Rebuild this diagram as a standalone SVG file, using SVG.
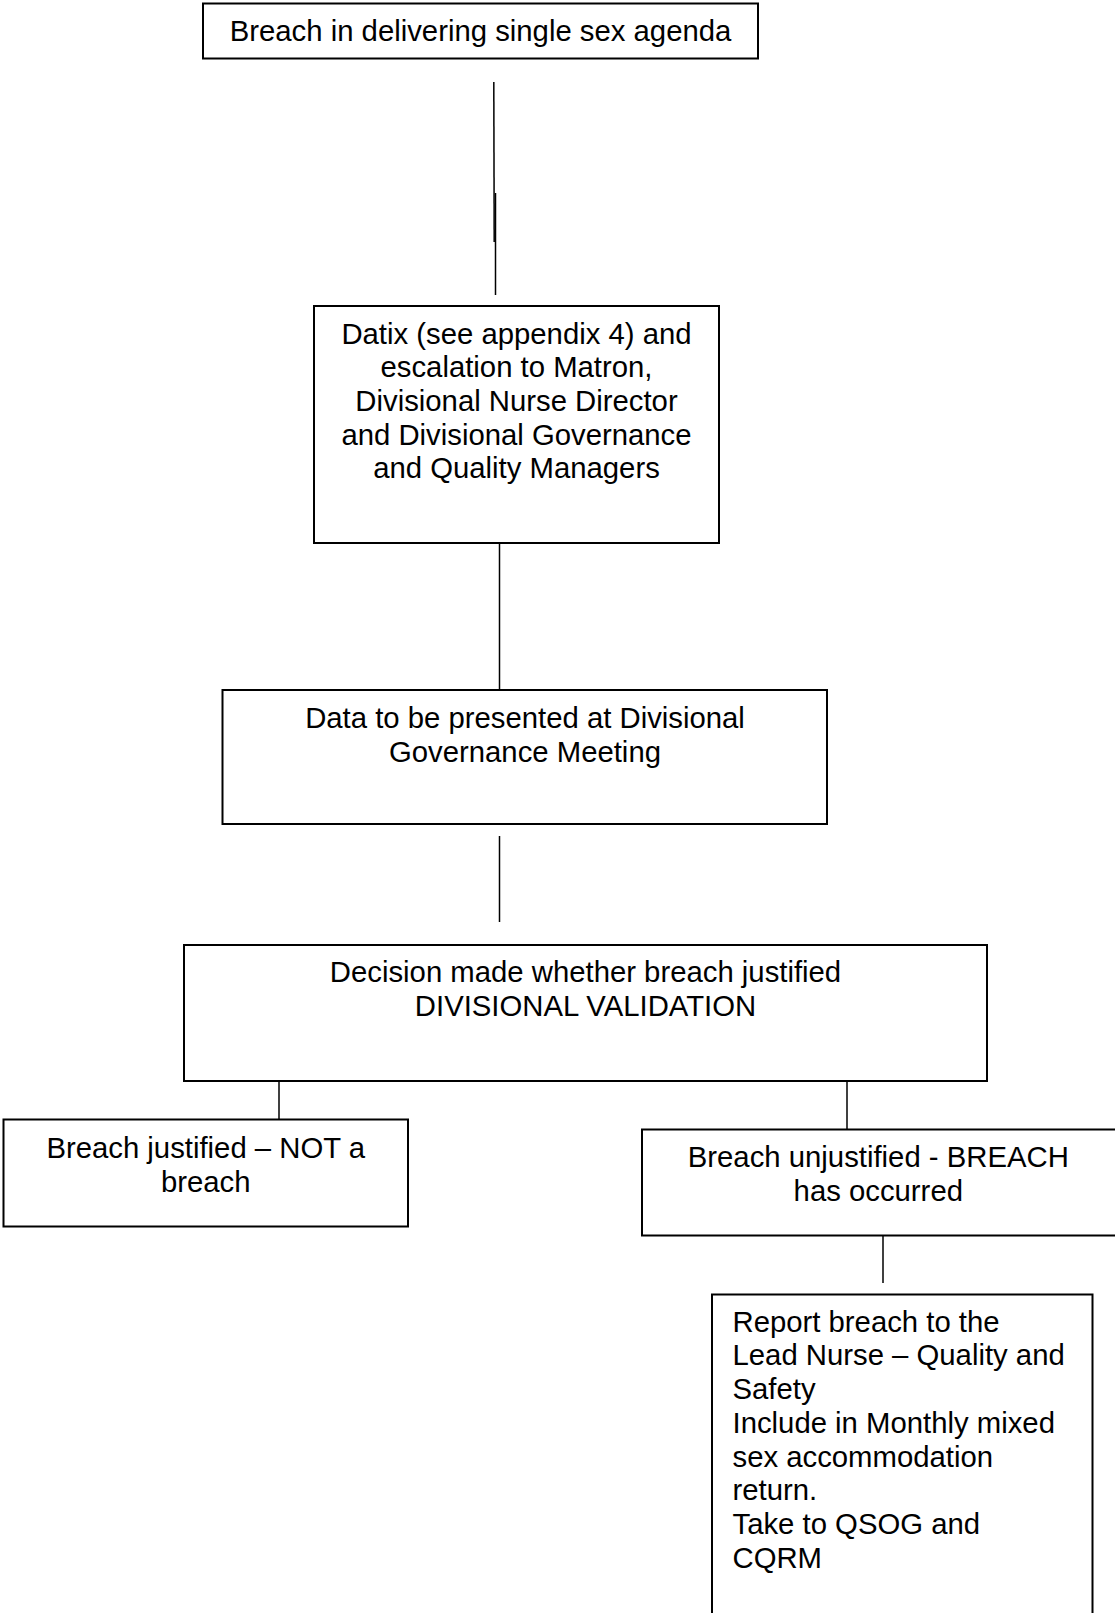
<svg xmlns="http://www.w3.org/2000/svg" width="1115" height="1613" viewBox="0 0 1115 1613">
<style>
  .box { fill: #ffffff; stroke: #000000; stroke-width: 2; }
  .conn { stroke: #000000; stroke-width: 1.5; fill: none; }
  text { font-family: "Liberation Sans", Arial, sans-serif; font-size: 29.3px; fill: #000000; }
  .c { text-anchor: middle; }
</style>
<rect x="0" y="0" width="1115" height="1613" fill="#ffffff"/>
<g id="connectors">
  <line class="conn" x1="493.8" y1="82" x2="494.2" y2="242"/>
  <line class="conn" x1="495.5" y1="193" x2="495.5" y2="295"/>
  <line class="conn" x1="499.5" y1="543" x2="499.5" y2="690"/>
  <line class="conn" x1="499.5" y1="836" x2="499.5" y2="922"/>
  <line class="conn" x1="279" y1="1080" x2="279" y2="1119"/>
  <line class="conn" x1="847" y1="1081" x2="847" y2="1129"/>
  <line class="conn" x1="883" y1="1230" x2="883" y2="1283"/>
</g>
<g id="n1">
  <rect class="box" x="203" y="3.5" width="555" height="55"/>
  <text class="c" x="480.5" y="41">Breach in delivering single sex agenda</text>
</g>
<g id="n2">
  <rect class="box" x="314" y="306" width="405" height="237"/>
  <text class="c" x="516.5" y="343.5">Datix (see appendix 4) and</text>
  <text class="c" x="516.5" y="377.2">escalation to Matron,</text>
  <text class="c" x="516.5" y="410.8">Divisional Nurse Director</text>
  <text class="c" x="516.5" y="444.5">and Divisional Governance</text>
  <text class="c" x="516.5" y="478">and Quality Managers</text>
</g>
<g id="n3">
  <rect class="box" x="222.5" y="690" width="604.5" height="134"/>
  <text class="c" x="525" y="728">Data to be presented at Divisional</text>
  <text class="c" x="525" y="761.5">Governance Meeting</text>
</g>
<g id="n4">
  <rect class="box" x="184" y="945" width="803" height="136"/>
  <text class="c" x="585.5" y="982.3">Decision made whether breach justified</text>
  <text class="c" x="585.5" y="1016">DIVISIONAL VALIDATION</text>
</g>
<g id="n5">
  <rect class="box" x="3.5" y="1119.5" width="404.5" height="107"/>
  <text class="c" x="205.7" y="1157.8">Breach justified – NOT a</text>
  <text class="c" x="205.7" y="1191.5">breach</text>
</g>
<g id="n6">
  <rect class="box" x="642" y="1129.5" width="480" height="106"/>
  <text class="c" x="878.3" y="1167">Breach unjustified - BREACH</text>
  <text class="c" x="878.3" y="1200.5">has occurred</text>
</g>
<g id="n7">
  <rect class="box" x="712" y="1294.5" width="380.5" height="330"/>
  <text x="732.5" y="1331.5">Report breach to the</text>
  <text x="732.5" y="1365.2">Lead Nurse – Quality and</text>
  <text x="732.5" y="1399">Safety</text>
  <text x="732.5" y="1432.7">Include in Monthly mixed</text>
  <text x="732.5" y="1466.5">sex accommodation</text>
  <text x="732.5" y="1500.2">return.</text>
  <text x="732.5" y="1534">Take to QSOG and</text>
  <text x="732.5" y="1567.7">CQRM</text>
</g>
</svg>
